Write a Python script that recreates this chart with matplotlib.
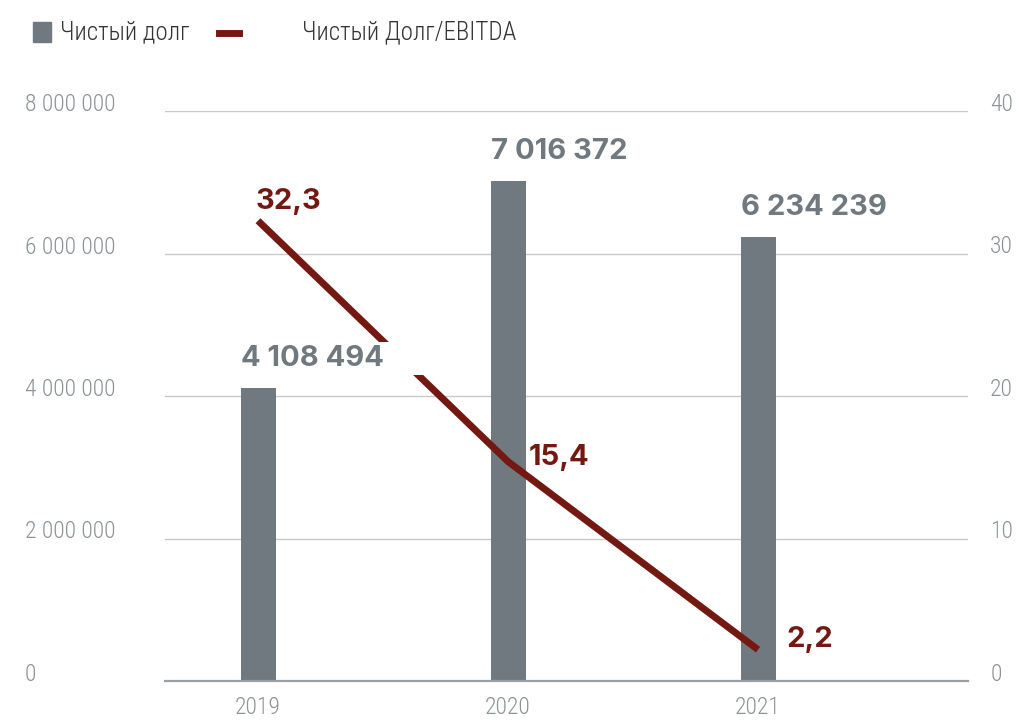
import matplotlib.pyplot as plt
from matplotlib.patches import Rectangle
from matplotlib.lines import Line2D
from matplotlib import font_manager

years = ['2019', '2020', '2021']
net_debt = [4108494, 7016372, 6234239]
debt_ebitda = [32.3, 15.4, 2.2]
debt_labels = ['4 108 494', '7 016 372', '6 234 239']
ratio_labels = ['32,3', '15,4', '2,2']
left_ticks = [0, 2000000, 4000000, 6000000, 8000000]
left_ticklabels = ['0', '2 000 000', '4 000 000', '6 000 000', '8 000 000']
right_ticks = [0, 10, 20, 30, 40]

bar_c = '#6f797f'
line_c = '#741912'
tick_c = '#8c9296'
names = {f.name for f in font_manager.fontManager.ttflist}
narrow = 'Roboto'
for cand in ['Roboto Condensed', 'Liberation Sans Narrow', 'Arial Narrow']:
    if cand in names:
        narrow = cand
        break
thin = [narrow, 'DejaVu Sans']
bold = ['Inter', 'DejaVu Sans']
tfs = 17 if narrow != 'Roboto' else 15

fig = plt.figure(figsize=(10.2, 7.2), dpi=100)
ax = fig.add_axes([165 / 1020, 39 / 720, 803 / 1020, 570 / 720])
ax2 = ax.twinx()
x = list(range(len(years)))

ax.bar(x, net_debt, width=0.14, color=bar_c, zorder=3)
ax.set_xlim(-0.372, 2.84)
ax.set_ylim(0, 8000000)
ax.set_yticks(left_ticks)
ax.set_yticklabels(left_ticklabels, family=thin, fontsize=tfs, fontweight='light',
                   color=tick_c, ha='left', va='baseline')
ax.tick_params(axis='y', length=0, pad=101)
ax.set_xticks(x)
ax.set_xticklabels(years, family=thin, fontsize=tfs, fontweight='light', color=tick_c)
ax.tick_params(axis='x', length=0, pad=11)
ax.grid(axis='y', color='#c9c9c9', linewidth=1, zorder=0)
for s in ['top', 'left', 'right']:
    ax.spines[s].set_visible(False)
ax.spines['bottom'].set_color('#9aa0a4')
ax.spines['bottom'].set_linewidth(1.6)
ax.spines['bottom'].set_zorder(4)

ax2.plot(x, debt_ebitda, color=line_c, linewidth=5, solid_capstyle='butt', zorder=2)
ax2.set_ylim(0, 40)
ax2.set_yticks(right_ticks)
ax2.set_yticklabels([str(t) for t in right_ticks], family=thin, fontsize=tfs,
                    fontweight='light', color=tick_c, va='baseline')
ax2.tick_params(axis='y', length=0, pad=16)
for s in ax2.spines.values():
    s.set_visible(False)

# bar labels sit on top of the line with a white box
for xi, v, lbl in zip(x, net_debt, debt_labels):
    ax2.annotate(lbl + '      ', (xi - 0.07, v), xycoords=ax.transData,
                 xytext=(0, 16), textcoords='offset pixels', ha='left', va='bottom',
                 family=bold, fontweight='bold', fontsize=21, color=bar_c, zorder=5,
                 bbox=dict(boxstyle='square,pad=0.1', facecolor='white', edgecolor='none'))

offsets = [(-2, 6, 'bottom'), (21, 4, 'center'), (28, 10, 'center')]
for xi, v, lbl, (dx, dy, va) in zip(x, debt_ebitda, ratio_labels, offsets):
    ax2.annotate(lbl, (xi, v), xytext=(dx, dy), textcoords='offset pixels',
                 ha='left', va=va, family=bold, fontweight='bold', fontsize=21,
                 color=line_c, zorder=6)

# legend
fig.patches.append(Rectangle((33 / 1020, 1 - 42 / 720), 18 / 1020, 20 / 720,
                             transform=fig.transFigure, color=bar_c))
fig.text(60 / 1020, 1 - 32 / 720, 'Чистый долг', family=thin, fontsize=tfs + 1,
         fontweight='light', color='#333333', va='center')
fig.lines.append(Line2D([219 / 1020, 239 / 1020], [1 - 33 / 720, 1 - 33 / 720],
                        transform=fig.transFigure, color=line_c, linewidth=5))
fig.text(302 / 1020, 1 - 32 / 720, 'Чистый Долг/EBITDA', family=thin, fontsize=tfs + 1,
         fontweight='light', color='#333333', va='center')

fig.savefig('out.png', dpi=100)
